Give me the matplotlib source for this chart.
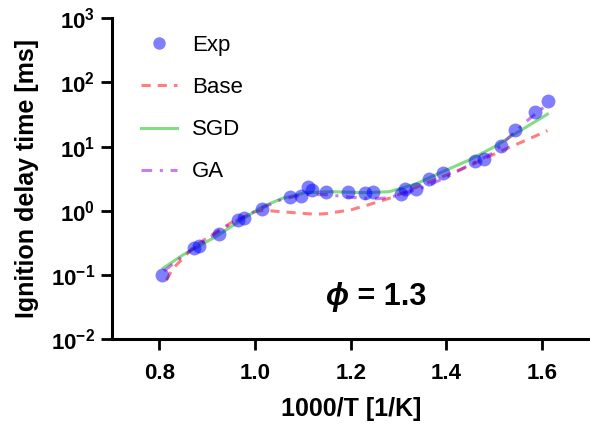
import matplotlib
matplotlib.use("Agg")
import matplotlib.pyplot as plt

# ---- data ----
exp_x = [0.806, 0.873, 0.882, 0.925, 0.965, 0.976, 1.015, 1.073, 1.095, 1.110,
         1.119, 1.148, 1.194, 1.229, 1.246, 1.304, 1.314, 1.337, 1.364, 1.392,
         1.460, 1.478, 1.513, 1.543, 1.585, 1.612]
exp_y = [0.10, 0.264, 0.284, 0.43, 0.71, 0.78, 1.05, 1.65, 1.69, 2.36,
         2.09, 1.97, 1.97, 1.90, 1.97, 1.82, 2.22, 2.15, 3.07, 3.9,
         6.0, 6.3, 10.1, 18.0, 34.0, 51.0]

base_x = [0.815, 0.828, 0.849, 0.869, 0.90, 0.95, 1.00, 1.016, 1.051, 1.099,
          1.127, 1.148, 1.20, 1.239, 1.287, 1.343, 1.392, 1.448, 1.510, 1.559, 1.611]
base_y = [0.083, 0.125, 0.18, 0.26, 0.38, 0.65, 0.96, 1.02, 0.97, 0.91,
          0.88, 0.90, 1.03, 1.25, 1.62, 2.43, 3.4, 5.0, 8.3, 11.9, 17.7]

sgd_x = [0.808, 0.849, 0.918, 0.988, 1.016, 1.057, 1.106, 1.162, 1.232, 1.280,
         1.336, 1.392, 1.448, 1.503, 1.545, 1.611]
sgd_y = [0.127, 0.204, 0.394, 0.86, 1.16, 1.56, 1.91, 1.98, 1.91, 1.98,
         2.61, 4.06, 6.2, 10.2, 16.1, 32.0]

ga_x = [0.81, 0.85, 0.90, 0.95, 1.00, 1.05, 1.10, 1.15, 1.20, 1.25,
        1.28, 1.31, 1.35, 1.40, 1.45, 1.47, 1.50, 1.535, 1.573, 1.61]
ga_y = [0.115, 0.20, 0.36, 0.63, 0.98, 1.45, 1.80, 1.78, 1.62, 1.53,
        1.60, 1.85, 2.3, 3.3, 5.3, 6.2, 8.2, 15.0, 27.0, 45.0]

x_ticks = [0.8, 1.0, 1.2, 1.4, 1.6]
x_tick_labels = ["0.8", "1.0", "1.2", "1.4", "1.6"]
y_ticks = [1e-2, 1e-1, 1e0, 1e1, 1e2, 1e3]
y_tick_labels = [r"$\mathbf{10^{-2}}$", r"$\mathbf{10^{-1}}$", r"$\mathbf{10^{0}}$",
                 r"$\mathbf{10^{1}}$", r"$\mathbf{10^{2}}$", r"$\mathbf{10^{3}}$"]

plt.rcParams["font.family"] = ["Liberation Sans", "DejaVu Sans"]
plt.rcParams["mathtext.fontset"] = "custom"
plt.rcParams["mathtext.rm"] = "Liberation Sans"
plt.rcParams["mathtext.bf"] = "Liberation Sans:bold"
plt.rcParams["mathtext.it"] = "Liberation Sans:italic"

fig = plt.figure(figsize=(5.90, 4.24), dpi=100)
ax = fig.add_axes([0.189, 0.2005, 0.811, 0.7563])

ax.plot(base_x, base_y, color=(1.0, 0.0, 0.0, 0.5), lw=2.2,
        linestyle=(0, (3.0, 2.3)), label="Base", zorder=2)
ax.plot(sgd_x, sgd_y, color=(0.2, 0.78, 0.2, 0.6), lw=2.2,
        linestyle="-", label="SGD", zorder=2)
ax.plot(ga_x, ga_y, color=(0.58, 0.0, 0.83, 0.5), lw=2.2,
        linestyle=(0, (3.5, 2.5, 1.0, 2.5)), label="GA", zorder=2)
ax.plot(exp_x, exp_y, linestyle="none", marker="o", markersize=10,
        markerfacecolor=(0.0, 0.0, 1.0, 0.5), markeredgecolor="none",
        label="Exp", zorder=3)

ax.set_yscale("log")
ax.set_xlim(0.7, 1.7)
ax.set_ylim(1e-2, 1e3)
ax.set_xticks(x_ticks, x_tick_labels)
ax.set_yticks(y_ticks, y_tick_labels)
ax.minorticks_off()
ax.yaxis.set_minor_locator(matplotlib.ticker.NullLocator())

for s in ["top", "right"]:
    ax.spines[s].set_visible(False)
for s in ["left", "bottom"]:
    ax.spines[s].set_linewidth(2.2)
ax.tick_params(axis="both", which="major", length=8, width=2.0,
               labelsize=16, pad=4)
ax.tick_params(axis="x", pad=9)
for lbl in ax.get_xticklabels():
    lbl.set_fontweight("bold")

ax.set_xlabel("1000/T [1/K]", fontsize=18, fontweight="bold", labelpad=10)
ax.set_ylabel("Ignition delay time [ms]", fontsize=18, fontweight="bold", labelpad=8)

handles, labels = ax.get_legend_handles_labels()
order = [3, 0, 1, 2]
ax.legend([handles[i] for i in order], [labels[i] for i in order],
          loc="upper left", bbox_to_anchor=(0.02, 1.01), frameon=False,
          fontsize=16, handlelength=1.6, handletextpad=0.7, labelspacing=0.95,
          markerscale=0.9)

ax.text(0.496, 0.132, "ϕ", transform=ax.transAxes, fontsize=22,
        fontweight="bold", fontstyle="italic", ha="right", va="center",
        family=["Liberation Sans", "DejaVu Sans"])
ax.text(0.496, 0.132, " = 1.3", transform=ax.transAxes, fontsize=22,
        fontweight="bold", ha="left", va="center")

fig.savefig("out.png", dpi=100)
